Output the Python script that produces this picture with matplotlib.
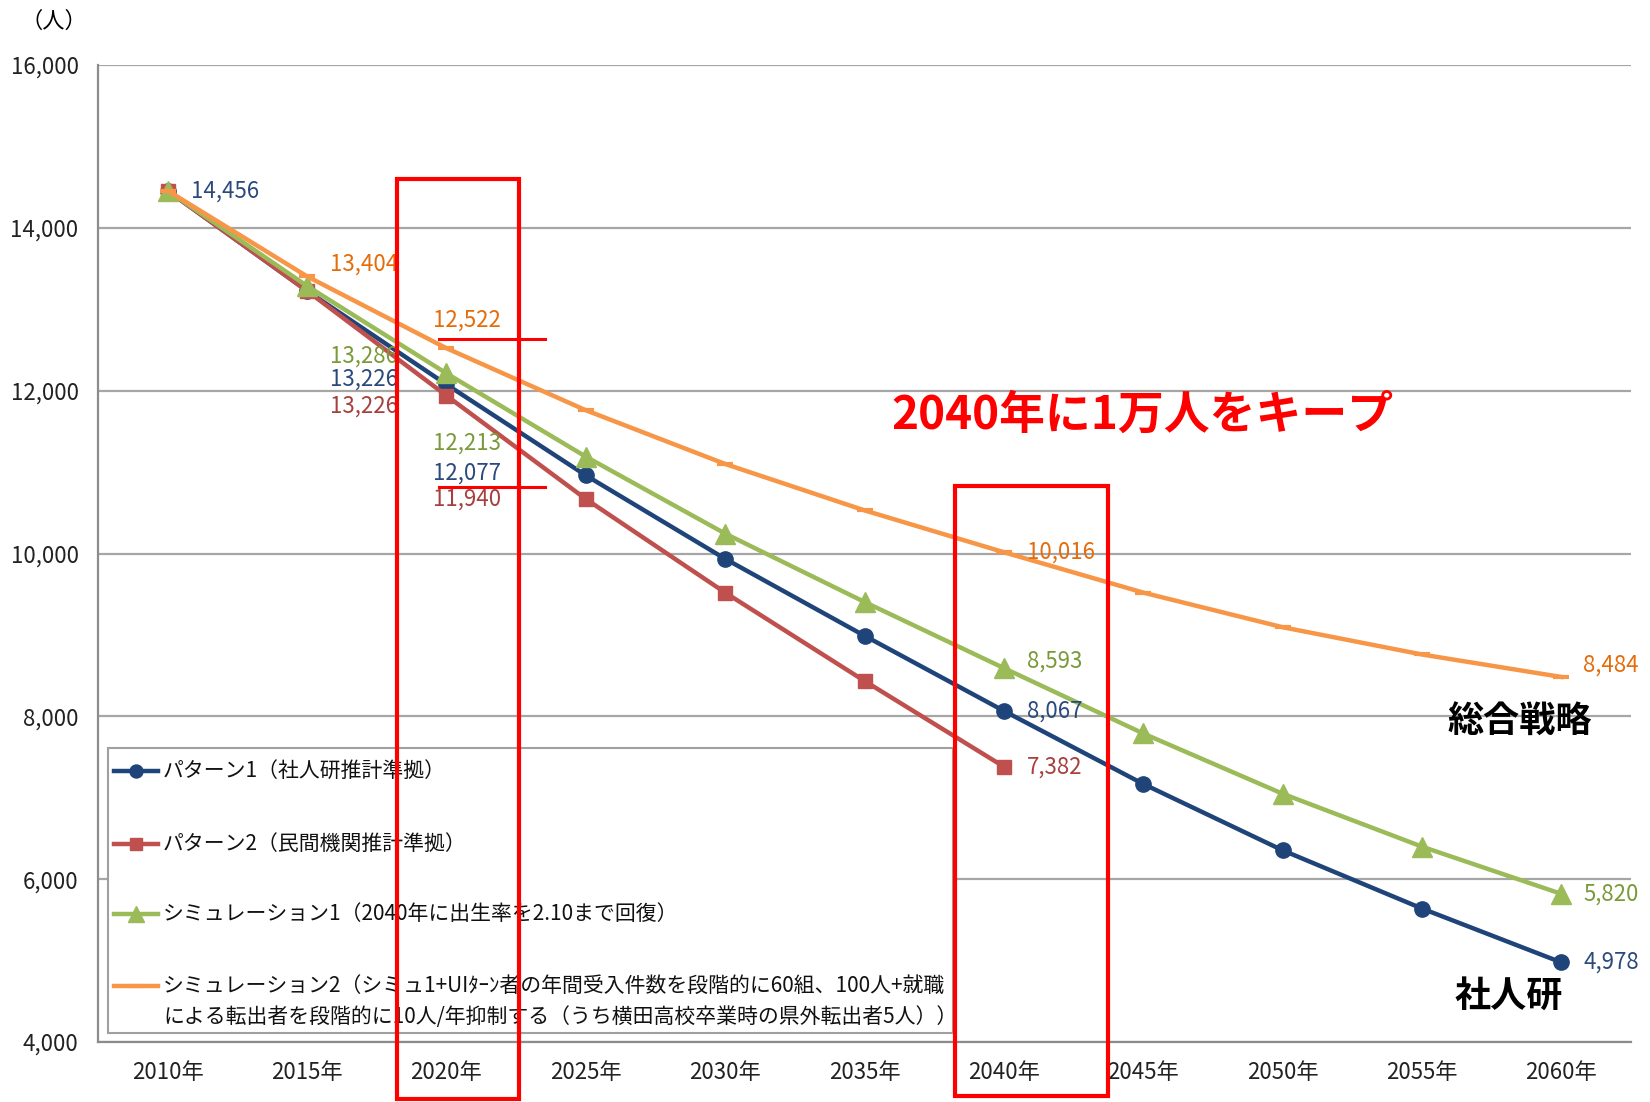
import matplotlib
matplotlib.use("Agg")
import matplotlib.pyplot as plt
from matplotlib.patches import Rectangle

plt.rcParams['font.family'] = ['Noto Sans CJK JP', 'DejaVu Sans']

# categories and series values (people)
years = ["2010年", "2015年", "2020年", "2025年", "2030年", "2035年",
         "2040年", "2045年", "2050年", "2055年", "2060年"]
pattern1 = [14456, 13226, 12077, 10960, 9935, 8990, 8067, 7170, 6355, 5640, 4978]
pattern2 = [14456, 13226, 11940, 10670, 9520, 8435, 7382]
sim1 = [14456, 13286, 12213, 11190, 10245, 9405, 8593, 7790, 7050, 6400, 5820]
sim2 = [14456, 13404, 12522, 11760, 11100, 10530, 10016, 9520, 9095, 8760, 8484]

names = ["パターン1（社人研推計準拠）",
         "パターン2（民間機関推計準拠）",
         "シミュレーション1（2040年に出生率を2.10まで回復）",
         "シミュレーション2（シミュ1+UIﾀｰﾝ者の年間受入件数を段階的に60組、100人+就職"]
name4_line2 = "による転出者を段階的に10人/年抑制する（うち横田高校卒業時の県外転出者5人））"

# which points carry a value label
labeled = [[0, 1, 2, 6, 10], [1, 2, 6], [1, 2, 6, 10], [1, 2, 6, 10]]

# label offsets in pixels (dx, dy downward)
offsets = [
    {0: (23, 0), 1: (23, 88), 2: (-13, 89), 6: (23, 0), 10: (22, 0)},
    {1: (23, 115), 2: (-13, 104), 6: (23, 0)},
    {1: (23, 70), 2: (-13, 70), 6: (23, -7), 10: (22, 0)},
    {1: (23, -12), 2: (-13, -28), 6: (23, 0), 10: (22, -12)},
]

series = [pattern1, pattern2, sim1, sim2]
line_colors = ["#1F4479", "#C0504D", "#9BBB59", "#F79646"]
text_colors = ["#2B4A7C", "#A6403D", "#7A9A3A", "#E46C0A"]
markers = ["o", "s", "^", "_"]
msizes = [11, 10, 14, 12]

fig = plt.figure(figsize=(16.5, 11.02), dpi=100)
ax = fig.add_axes([0.0594, 0.0544, 0.9291, 0.8866])

for k, vals in enumerate(series):
    ax.plot(range(len(vals)), vals, color=line_colors[k], lw=3.2,
            marker=markers[k], markersize=msizes[k],
            markeredgewidth=3 if markers[k] == "_" else 1,
            markeredgecolor=line_colors[k], zorder=3 + k * 0.1)
    for i in labeled[k]:
        dx, dy = offsets[k][i]
        ax.annotate(f"{vals[i]:,}", (i, vals[i]), xytext=(dx, -dy),
                    textcoords="offset pixels", ha="left", va="center",
                    fontsize=16, color=text_colors[k], zorder=6)

ax.set_xlim(-0.5, len(years) - 0.5)
ax.set_ylim(4000, 16000)
ax.set_xticks(range(len(years)))
ax.set_xticklabels(years)
ax.set_yticks(range(4000, 16001, 2000))
ax.set_yticklabels([f"{v:,}" for v in range(4000, 16001, 2000)])
ax.tick_params(axis="both", length=0, labelsize=16, colors="#222222")
ax.tick_params(axis="x", pad=14)
ax.tick_params(axis="y", pad=14)
ax.grid(axis="y", color="#A6A6A6", lw=1.6)
ax.set_axisbelow(True)
for s in ["top", "right"]:
    ax.spines[s].set_visible(False)
for s in ["left", "bottom"]:
    ax.spines[s].set_color("#8C8C8C")
    ax.spines[s].set_linewidth(1.6)

# legend drawn by hand inside the plot
ax.add_patch(Rectangle((0.0065, 0.0092), 0.551, 0.292, transform=ax.transAxes,
                       facecolor="white", edgecolor="#A0A0A0", lw=1.5, zorder=4))
leg_y = [0.277, 0.203, 0.131, 0.057]
for k in range(4):
    ax.plot([0.0104, 0.0248, 0.0391], [leg_y[k]] * 3, transform=ax.transAxes,
            color=line_colors[k], lw=3.2, marker=markers[k], markevery=[1],
            markersize=msizes[k] * 0.85, markeredgecolor=line_colors[k],
            markeredgewidth=3 if markers[k] == "_" else 1, zorder=5)
    ax.text(0.0424, leg_y[k], names[k], transform=ax.transAxes, ha="left",
            va="center", fontsize=15, color="#111111", zorder=5)
ax.text(0.0424, 0.0256, name4_line2, transform=ax.transAxes, ha="left",
        va="center", fontsize=15, color="#111111", zorder=5)

# red highlight boxes and marks
for x0, x1, y0, y1 in [(1.645, 2.52, 3297, 14600), (5.65, 6.75, 3335, 10828)]:
    ax.add_patch(Rectangle((x0, y0), x1 - x0, y1 - y0, facecolor="none",
                           edgecolor="#FF0000", lw=3, clip_on=False, zorder=7))
for yv in [12638, 10816]:
    ax.plot([1.95, 2.71], [yv, yv], color="#FF0000", lw=2.2, zorder=7)

ax.text(5.196, 11689, "2040年に1万人をキープ", color="#FF0000", fontsize=33,
        fontweight="bold", ha="left", va="center", zorder=8)
ax.text(9.70, 7931, "総合戦略", color="black", fontsize=26,
        fontweight="bold", ha="center", va="center", zorder=8)
ax.text(9.62, 4566, "社人研", color="black", fontsize=26,
        fontweight="bold", ha="center", va="center", zorder=8)

fig.text(0.0327, 0.981, "（人）", fontsize=16, ha="center", va="center")

fig.savefig("out.png", dpi=100)
